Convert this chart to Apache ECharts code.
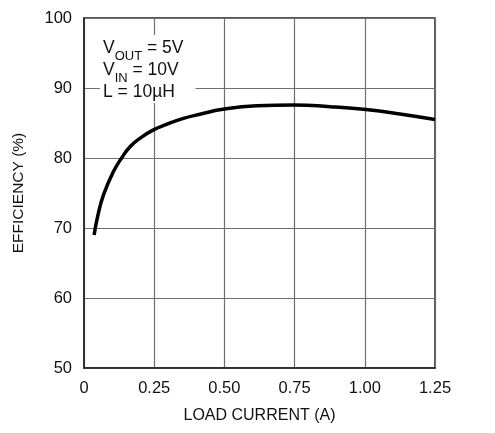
<!DOCTYPE html>
<html>
<head>
<meta charset="utf-8">
<script src="https://cdn.jsdelivr.net/npm/echarts@6/dist/echarts.min.js"></script>
<style>
  html, body { margin: 0; padding: 0; background: #fff; }
  #chart { width: 495px; height: 433px; }
</style>
</head>
<body>
<div id="chart"></div>
<script>
// load current (A) and efficiency (%)
const loadCurrent = [0.036, 0.05, 0.07, 0.104, 0.134, 0.164, 0.199, 0.244, 0.294, 0.354, 0.413, 0.494, 0.615, 0.748, 0.876, 0.995, 1.125, 1.25];
const efficiency = [69.0, 71.9, 74.8, 78.0, 80.0, 81.6, 82.8, 83.95, 84.8, 85.65, 86.25, 86.95, 87.45, 87.57, 87.33, 86.95, 86.3, 85.5];
const yTicks = [50, 60, 70, 80, 90, 100];
const xTicks = [0, 0.25, 0.5, 0.75, 1.0, 1.25];

const font = '"Liberation Sans", Arial, sans-serif';

var chart = echarts.init(document.getElementById("chart"));

var option = {
  animation: false,
  backgroundColor: "#fff",
  grid: {
    left: 84,
    top: 18,
    right: 60,
    bottom: 65,
    show: true,
    borderColor: "#222",
    borderWidth: 1.5
  },
  xAxis: {
    type: "value",
    min: xTicks[0],
    max: xTicks[xTicks.length - 1],
    interval: 0.25,
    name: "LOAD CURRENT (A)",
    nameLocation: "middle",
    nameGap: 40,
    nameTextStyle: { color: "#111", fontSize: 16, fontFamily: font },
    axisLine: { lineStyle: { color: "#222", width: 1.5 } },
    axisTick: { show: false },
    axisLabel: {
      color: "#111",
      fontSize: 16.5,
      fontFamily: font,
      margin: 12,
      formatter: v => (v === 0 ? "0" : v.toFixed(2))
    },
    splitLine: { lineStyle: { color: "#6e6e6e", width: 1.2 } }
  },
  yAxis: {
    type: "value",
    min: yTicks[0],
    max: yTicks[yTicks.length - 1],
    interval: 10,
    name: "EFFICIENCY (%)",
    nameLocation: "middle",
    nameGap: 57,
    nameTextStyle: { color: "#111", fontSize: 15.5, fontFamily: font },
    axisLine: { show: true, lineStyle: { color: "#222", width: 1.5 } },
    axisTick: { show: false },
    axisLabel: { color: "#111", fontSize: 16.5, fontFamily: font, margin: 12 },
    splitLine: { lineStyle: { color: "#6e6e6e", width: 1.2 } }
  },
  series: [
    {
      type: "line",
      data: loadCurrent.map((x, i) => [x, efficiency[i]]),
      smooth: 0.5,
      showSymbol: false,
      lineStyle: { color: "#000", width: 3.5 },
      z: 5
    }
  ],
  graphic: [
    {
      type: "text",
      left: 100,
      top: 35,
      z: 10,
      style: {
        text: "{v|V}{s|OUT}{v| = 5V}\n{v|V}{s|IN}{v| = 10V}\n{v|L = 10µH}",
        fontFamily: font,
        fill: "#111",
        backgroundColor: "#fff",
        padding: [2, 12, 0, 3],
        lineHeight: 22,
        rich: {
          v: { fontSize: 17.5, fontFamily: font, lineHeight: 22 },
          s: { fontSize: 13, fontFamily: font, verticalAlign: "bottom", lineHeight: 22, padding: [0, 0, -4, 0] }
        }
      }
    }
  ]
};

chart.setOption(option);
</script>
</body>
</html>
